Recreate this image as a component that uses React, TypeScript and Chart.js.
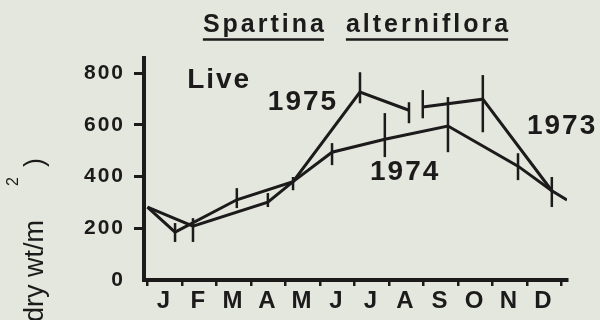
import React, { useEffect, useRef } from 'react';
import { Chart, registerables } from 'chart.js';

Chart.register(...registerables);

// ---- data ----
const monthLabels = ['J', 'F', 'M', 'A', 'M', 'J', 'J', 'A', 'S', 'O', 'N', 'D'];
const monthBoundaries = [0, 1, 2, 3, 4, 5, 6, 7, 8, 9, 10, 11, 12];
const yTickValues = [0, 200, 400, 600, 800];

// x = months since 1 Jan (0..12), y = g dry wt / m2
const x1975 = [0, 0.8, 2.59, 4.22, 6.16, 7.58];
const y1975 = [282, 185, 310, 380, 726, 656];
const err1975: (number[] | null)[] = [null, [147, 220], [278, 355], [347, 398], [683, 803], [606, 687]];

const x1974 = [0, 1.32, 3.49, 4.22, 5.35, 6.88, 8.71, 10.74, 11.72, 12.16];
const y1974 = [282, 208, 301, 380, 494, 544, 595, 440, 345, 309];
const err1974: (number[] | null)[] = [null, [147, 239], [282, 336], null, [444, 529], [475, 645], [494, 707], [386, 490], [282, 398], null];

const x1973 = [7.98, 9.72, 11.72];
const y1973 = [669, 699, 345];
const err1973: (number[] | null)[] = [[625, 734], [571, 792], null];

const seriesNames = ['1975', '1974', '1973'];
const seriesLabelX = [3.49, 6.45, 11.0];
const seriesLabelY = [657, 386, 564];

const liveText = 'Live';
const liveX = 1.15;
const liveY = 742;

const titleWords = ['Spartina', 'alterniflora'];
const yTitleParts = ['dry wt/m', '2', ')'];

const INK = '#1c1a1a';
const BG = '#e3e7dd';

export default function App() {
  const canvasRef = useRef<HTMLCanvasElement | null>(null);

  useEffect(() => {
    const canvas = canvasRef.current;
    if (!canvas) return;

    const errLists = [err1975, err1974, err1973];
    const xLists = [x1975, x1974, x1973];

    const decorPlugin = {
      id: 'decor',
      beforeDraw(chart: any) {
        const ctx = chart.ctx;
        ctx.save();
        ctx.fillStyle = BG;
        ctx.fillRect(0, 0, chart.width, chart.height);
        ctx.restore();
        ctx.letterSpacing = '2px';
      },
      afterDatasetsDraw(chart: any) {
        const ctx = chart.ctx;
        const xs = chart.scales.x;
        const ys = chart.scales.y;
        ctx.save();
        ctx.strokeStyle = INK;
        ctx.lineWidth = 2.5;
        ctx.lineCap = 'butt';
        errLists.forEach((errs, d) => {
          errs.forEach((e, i) => {
            if (!e) return;
            const px = xs.getPixelForValue(xLists[d][i]);
            ctx.beginPath();
            ctx.moveTo(px, ys.getPixelForValue(e[0]));
            ctx.lineTo(px, ys.getPixelForValue(e[1]));
            ctx.stroke();
          });
        });
        ctx.restore();
      },
      afterDraw(chart: any) {
        const ctx = chart.ctx;
        const xs = chart.scales.x;
        const ys = chart.scales.y;
        const area = chart.chartArea;
        ctx.save();
        ctx.fillStyle = INK;
        ctx.strokeStyle = INK;
        ctx.textAlign = 'left';
        ctx.textBaseline = 'alphabetic';

        // title with underlined words
        const sp = 3;
        ctx.font = 'bold 25px "Liberation Sans", Arial, sans-serif';
        ctx.letterSpacing = '0px';
        const widths = titleWords.map((w) => ctx.measureText(w).width + sp * (w.length - 1));
        const gap = 22;
        const total = widths[0] + gap + widths[1];
        let tx = (area.left + area.right) / 2 - total / 2;
        ctx.letterSpacing = sp + 'px';
        titleWords.forEach((w, i) => {
          ctx.fillText(w, tx, 32);
          ctx.lineWidth = 2.5;
          ctx.beginPath();
          ctx.moveTo(tx, 39.5);
          ctx.lineTo(tx + widths[i], 39.5);
          ctx.stroke();
          tx += widths[i] + gap;
        });

        // series labels
        ctx.font = 'bold 28px "Liberation Sans", Arial, sans-serif';
        ctx.letterSpacing = '2px';
        seriesNames.forEach((n, i) => {
          ctx.fillText(n, xs.getPixelForValue(seriesLabelX[i]), ys.getPixelForValue(seriesLabelY[i]));
        });
        ctx.fillText(liveText, xs.getPixelForValue(liveX), ys.getPixelForValue(liveY));

        // rotated y-axis title (partly clipped at the bottom, as in the reference)
        ctx.letterSpacing = '0px';
        const drawRot = (t: string, x: number, y: number, font: string) => {
          ctx.save();
          ctx.translate(x, y);
          ctx.rotate(-Math.PI / 2);
          ctx.font = font;
          ctx.fillText(t, 0, 0);
          ctx.restore();
        };
        drawRot(yTitleParts[0], 43, 322, '27px "Liberation Sans", Arial, sans-serif');
        drawRot(yTitleParts[1], 18, 186, '16px "Liberation Sans", Arial, sans-serif');
        drawRot(yTitleParts[2], 43, 167, '27px "Liberation Sans", Arial, sans-serif');
        ctx.restore();
      },
    };

    const mk = (xs: number[], ys: number[], name: string) => ({
      label: name,
      data: xs.map((x, i) => ({ x, y: ys[i] })),
      borderColor: INK,
      borderWidth: 3,
      pointRadius: 0,
      tension: 0,
      fill: false,
    });

    const chart = new Chart(canvas, {
      type: 'line',
      data: {
        datasets: [mk(x1975, y1975, seriesNames[0]), mk(x1974, y1974, seriesNames[1]), mk(x1973, y1973, seriesNames[2])],
      },
      options: {
        animation: false,
        responsive: false,
        devicePixelRatio: 1,
        layout: { padding: { left: 84, right: 33, top: 58, bottom: 0 } },
        plugins: { legend: { display: false }, tooltip: { enabled: false }, title: { display: false } },
        scales: {
          x: {
            type: 'linear',
            min: -0.1,
            max: 12.16,
            afterBuildTicks: (s: any) => {
              s.ticks = monthBoundaries.map((v) => ({ value: v }));
            },
            afterFit: (s: any) => {
              s.height = 40;
            },
            ticks: {
              autoSkip: false,
              maxRotation: 0,
              minRotation: 0,
              labelOffset: 17,
              padding: 1,
              color: INK,
              font: { family: '"Liberation Sans", Arial, sans-serif', size: 24, weight: 'bold' },
              callback: (_v: any, i: number) => monthLabels[i] ?? '',
            },
            grid: {
              display: true,
              drawOnChartArea: false,
              drawTicks: true,
              tickLength: 6,
              lineWidth: 2.5,
              color: INK,
            },
            border: { display: true, width: 4, color: INK },
          },
          y: {
            type: 'linear',
            min: 0,
            max: 858,
            afterBuildTicks: (s: any) => {
              s.ticks = yTickValues.map((v) => ({ value: v }));
            },
            afterFit: (s: any) => {
              s.width = 60;
            },
            ticks: {
              padding: 9,
              color: INK,
              font: { family: '"Liberation Sans", Arial, sans-serif', size: 21, weight: 'bold' },
              callback: (v: any) => String(v),
            },
            grid: {
              display: true,
              drawOnChartArea: false,
              drawTicks: true,
              tickLength: 10,
              lineWidth: 3,
              color: (c: any) => (c.tick && c.tick.value === 0 ? 'rgba(0,0,0,0)' : INK),
            },
            border: { display: true, width: 4, color: INK },
          },
        },
      },
      plugins: [decorPlugin],
    } as any);

    return () => chart.destroy();
  }, []);

  return (
    <div style={{ position: 'fixed', left: 0, top: 0, width: 600, height: 320, background: BG }}>
      <canvas ref={canvasRef} width={600} height={320} style={{ display: 'block', width: 600, height: 320 }} />
    </div>
  );
}
